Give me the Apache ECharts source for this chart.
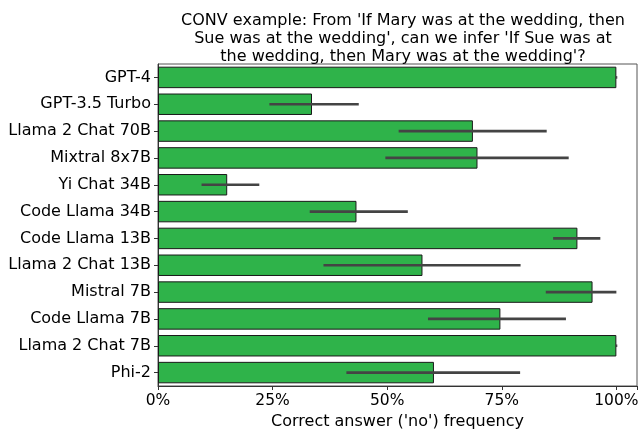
<!DOCTYPE html>
<html><head><meta charset="utf-8">
<script src="https://cdn.jsdelivr.net/npm/echarts@6/dist/echarts.min.js"></script>
<style>html,body{margin:0;padding:0;background:#fff}#c{width:638px;height:433px}</style>
</head><body><div id="c"></div>
<script>
const categories = ['GPT-4','GPT-3.5 Turbo','Llama 2 Chat 70B','Mixtral 8x7B','Yi Chat 34B','Code Llama 34B','Code Llama 13B','Llama 2 Chat 13B','Mistral 7B','Code Llama 7B','Llama 2 Chat 7B','Phi-2'];
const values = [100, 33.6, 68.7, 69.7, 15.1, 43.3, 91.5, 57.7, 94.8, 74.7, 100, 60.2];
const errLow = [99.8, 24.3, 52.5, 49.6, 9.5, 33.1, 86.2, 36.1, 84.6, 58.9, 99.8, 41.1];
const errHigh = [100.2, 43.8, 84.8, 89.6, 22.1, 54.5, 96.5, 79.1, 100, 89.0, 100.2, 79.0];
const xTicks = [0, 25, 50, 75, 100];
const titleText = "CONV example: From 'If Mary was at the wedding, then\nSue was at the wedding', can we infer 'If Sue was at\nthe wedding, then Mary was at the wedding'?";
const xName = "Correct answer ('no') frequency";

const font = 'DejaVu Sans';
const chart = echarts.init(document.getElementById('c'), null, {renderer:'canvas'});
chart.setOption({
  animation:false,
  title:{text:titleText, left:398, top:6.5, textAlign:'center',
    textStyle:{fontFamily:font, fontSize:16, fontWeight:'normal', color:'#000', lineHeight:18}},
  grid:{left:158, right:1, top:64, bottom:47, show:true, borderColor:'#555', borderWidth:1,
    containLabel:false, outerBoundsMode:'none'},
  xAxis:{type:'value', min:0, max:104.5, interval:25,
    axisLine:{show:true, lineStyle:{color:'#333'}},
    axisTick:{show:true, length:4, lineStyle:{color:'#333'}},
    splitLine:{show:false},
    axisLabel:{fontFamily:font, fontSize:15.5, color:'#000', margin:7,
      formatter:v => xTicks.includes(v) ? v + '%' : ''},
    name:xName, nameLocation:'middle', nameGap:25,
    nameTextStyle:{fontFamily:font, fontSize:16, color:'#000'}},
  yAxis:{type:'category', data:categories, inverse:true,
    axisLine:{show:true, lineStyle:{color:'#333'}},
    axisTick:{show:true, length:4, alignWithLabel:true, lineStyle:{color:'#333'}},
    axisLabel:{fontFamily:font, fontSize:16, color:'#000', margin:7}},
  series:[
    {type:'bar', data:values, barWidth:'80%',
      itemStyle:{color:'#2fb34a', borderColor:'#1a1a1a', borderWidth:1}},
    {type:'custom', data:categories.map((c,i)=>[i, errLow[i], errHigh[i]]),
      renderItem:(params, api)=>{
        const i = api.value(0);
        const a = api.coord([api.value(1), i]);
        const b = api.coord([api.value(2), i]);
        return {type:'line', shape:{x1:a[0], y1:a[1], x2:b[0], y2:b[1]},
          style:{stroke:'#444', lineWidth:2.6}};
      },
      encode:{x:[1,2], y:0}, z:5}
  ]
});
</script></body></html>
